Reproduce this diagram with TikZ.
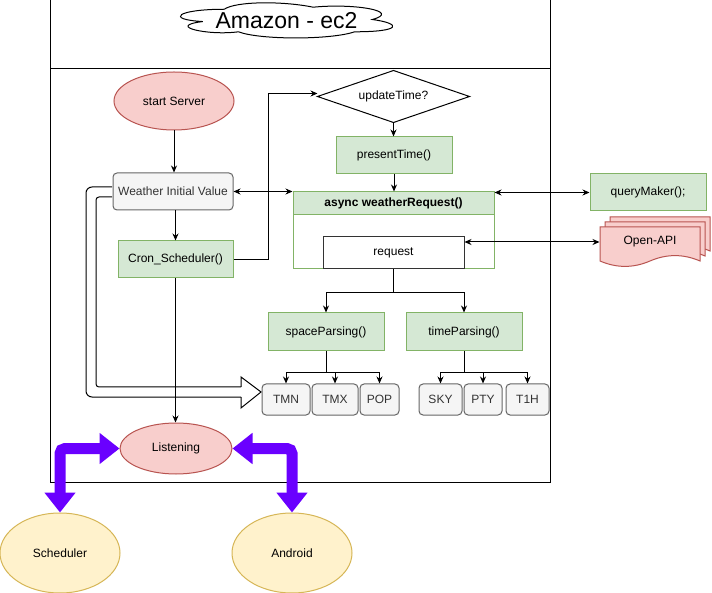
\documentclass[tikz,border=0pt]{standalone}
\usepackage{fontspec}
\setmainfont{Liberation Sans}
\usetikzlibrary{shapes.geometric,arrows.meta,calc}
\definecolor{redF}{HTML}{F8CECC}\definecolor{redS}{HTML}{B85450}
\definecolor{grnF}{HTML}{D5E8D4}\definecolor{grnS}{HTML}{82B366}
\definecolor{gryF}{HTML}{F5F5F5}\definecolor{gryS}{HTML}{666666}\definecolor{gryT}{HTML}{333333}
\definecolor{ylwF}{HTML}{FFF2CC}\definecolor{ylwS}{HTML}{D6B656}
\definecolor{vio}{HTML}{6A00FF}
\begin{document}
\begin{tikzpicture}[x=1pt,y=-1pt,line width=1pt,font=\fontsize{12}{14}\selectfont,
 box/.style={rectangle,inner sep=0pt,align=center},
 redell/.style={ellipse,draw=redS,fill=redF,inner sep=0pt},
 ylwell/.style={ellipse,draw=ylwS,fill=ylwF,inner sep=0pt},
 grnbox/.style={box,draw=grnS,fill=grnF},
 grybox/.style={box,draw=gryS,fill=gryF,rounded corners=4pt,text=gryT},
 arr/.style={-{Stealth[length=7pt,width=6pt]}},
 darr/.style={{Stealth[length=7pt,width=6pt]}-{Stealth[length=7pt,width=6pt]}},
 fat/.style={line width=11pt,draw=vio,rounded corners=5pt,{Triangle[length=20pt,width=30pt]}-{Triangle[length=20pt,width=30pt]}}]
\fill[white] (0,0) rectangle (712,593);
\useasboundingbox (0,0) rectangle (712,593);
% frame
\draw (50,0) rectangle (550,482);
\draw (50,69) -- (550,69);
% cloud
\begin{scope}[shift={(165,-1)},x=237pt,y=-41pt]
\filldraw[draw=black,fill=white] (0.25,0.25) .. controls (0.05,0.25) and (0,0.5) .. (0.16,0.55)
 .. controls (0,0.66) and (0.18,0.9) .. (0.31,0.8)
 .. controls (0.4,1) and (0.7,1) .. (0.8,0.8)
 .. controls (1,0.8) and (1,0.6) .. (0.875,0.5)
 .. controls (1,0.3) and (0.8,0.1) .. (0.625,0.2)
 .. controls (0.5,0.05) and (0.3,0.05) .. (0.25,0.25) -- cycle;
\end{scope}
\node[box,font=\fontsize{23}{26}\selectfont] (title) at (286.5,20.5) {Amazon - ec2};
% nodes
\node[redell,minimum width=120,minimum height=58] (start) at (174,101) {start Server};
\node[grybox,minimum width=120,minimum height=37] (wv) at (173,191.5) {Weather Initial Value};
\node[grnbox,minimum width=115,minimum height=37] (cron) at (175.5,259.5) {Cron\_Scheduler()};
\node[box,minimum width=151,minimum height=51] (upd) at (393.5,96.5) {updateTime?};
\draw (upd.west) -- (upd.north) -- (upd.east) -- (upd.south) -- cycle;
\node[grnbox,minimum width=116,minimum height=37] (pt) at (394,155.5) {presentTime()};
\node[box,draw=grnS,fill=white,minimum width=201,minimum height=77] (async) at (393.5,230.5) {};
\node[box,draw=grnS,fill=grnF,minimum width=201,minimum height=23,font=\fontsize{12}{14}\selectfont\bfseries] (ahead) at (393.5,203.5) {async weatherRequest()};
\node[box,draw=gryT,fill=white,minimum width=141,minimum height=32] (req) at (393.5,253) {request};
\node[grnbox,minimum width=116,minimum height=37] (qm) at (648,192.5) {queryMaker();};
% Open-API multi document
\foreach \dx/\dy in {10/-10,5/-5,0/0}{
 \filldraw[draw=redS,fill=redF] ({600+\dx},{227+\dy}) -- ({700+\dx},{227+\dy}) -- ({700+\dx},{261+\dy})
  .. controls ({683.3+\dx},{253.8+\dy}) and ({666.7+\dx},{253.8+\dy}) .. ({650+\dx},{261+\dy})
  .. controls ({633.3+\dx},{268.2+\dy}) and ({616.7+\dx},{268.2+\dy}) .. ({600+\dx},{261+\dy}) -- cycle;}
\node[box,minimum width=100,minimum height=30] (oa) at (650,242) {Open-API};
\node[grnbox,minimum width=116,minimum height=38] (sp) at (326,332) {spaceParsing()};
\node[grnbox,minimum width=116,minimum height=38] (tp) at (464,332) {timeParsing()};
\node[grybox,minimum width=48,minimum height=31] (tmn) at (286,399.5) {TMN};
\node[grybox,minimum width=46,minimum height=31] (tmx) at (335,399.5) {TMX};
\node[grybox,minimum width=39,minimum height=31] (pop) at (379.5,399.5) {POP};
\node[grybox,minimum width=43,minimum height=31] (sky) at (440.5,399.5) {SKY};
\node[grybox,minimum width=38,minimum height=31] (pty) at (483,399.5) {PTY};
\node[grybox,minimum width=43,minimum height=31] (t1h) at (527.5,399.5) {T1H};
\node[redell,minimum width=112,minimum height=51] (listen) at (176,448.5) {Listening};
\node[ylwell,minimum width=120,minimum height=80] (sched) at (60,553) {Scheduler};
\node[ylwell,minimum width=120,minimum height=80] (android) at (292,553) {Android};
% outline arrow
\draw[rounded corners=6pt] (112,187) -- (86,187) -- (86,397) -- (241,397);
\draw[rounded corners=3pt] (112,197) -- (96,197) -- (96,387) -- (241,387);
\draw[line join=miter] (241,387) -- (241,377) -- (261,392) -- (241,408) -- (241,397);
% connectors
\draw[arr] (start.south) -- (start.south |- wv.north);
\draw[arr] (cron.north |- wv.south) -- (cron.north);
\draw[arr] (cron.east) -- ++(35,0) |- ([yshift=3pt]upd.west);
\draw[arr] (upd.south) -- (upd.south |- pt.north);
\draw[arr] (pt.south) -- (pt.south |- ahead.north);
\draw[darr] (wv.east) -- (wv.east -| ahead.west);
\draw[darr] (qm.west) -- (qm.west -| ahead.east);
\draw[darr] (oa.west) -- (oa.west -| req.east);
\draw[arr] (req.south) -- ++(0,23) -| (sp.north);
\draw[arr] (req.south) -- ++(0,23) -| (tp.north);
\foreach \b in {tmn,tmx,pop} \draw[arr] (sp.south) -- ++(0,21) -| (\b.north);
\foreach \b in {sky,pty,t1h} \draw[arr] (tp.south) -- ++(0,21) -| (\b.north);
\draw[arr] (cron.south) -- (cron.south |- listen.north);
\draw[fat] (sched.north) |- (listen.west);
\draw[fat] (android.north) |- (listen.east);
\end{tikzpicture}
\end{document}
